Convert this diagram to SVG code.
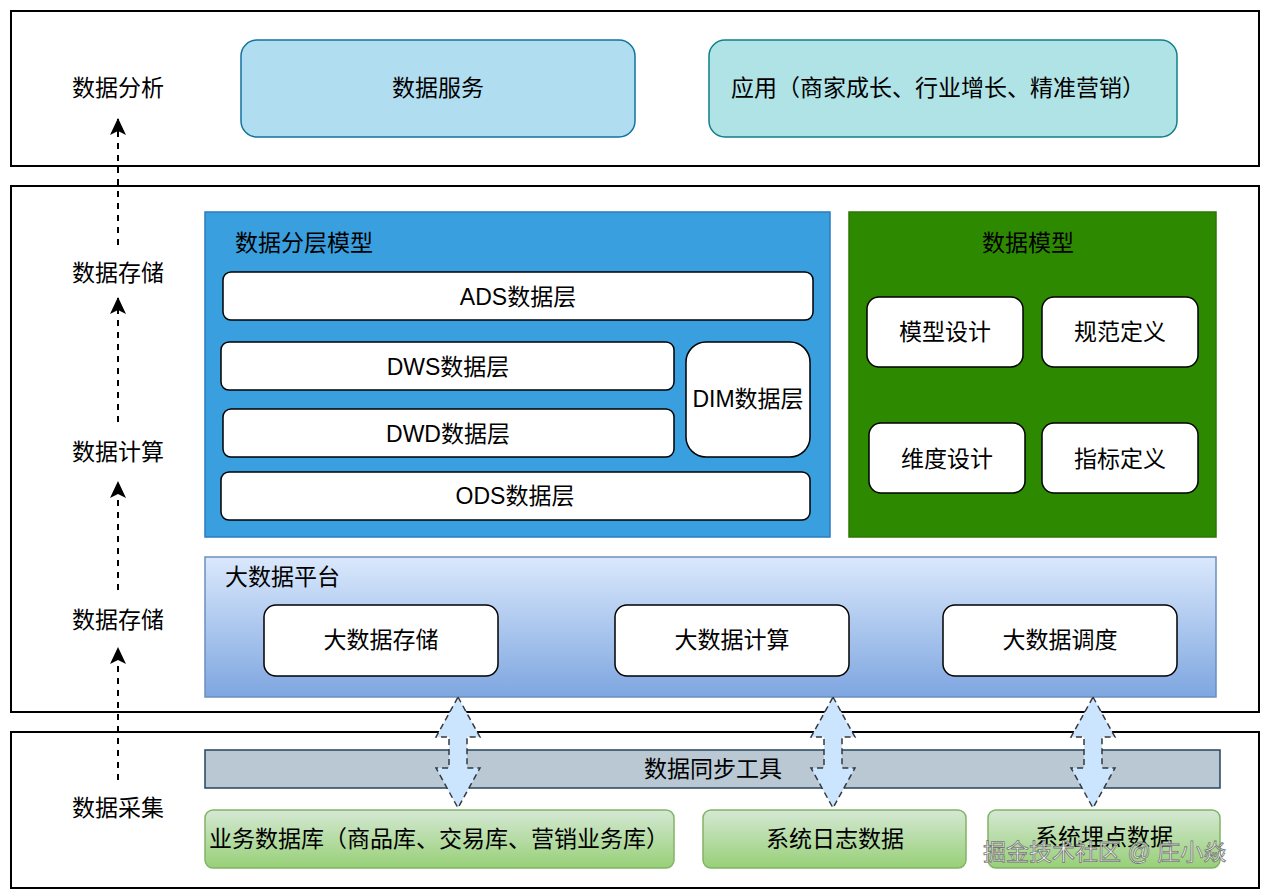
<svg xmlns="http://www.w3.org/2000/svg" width="1267" height="896" viewBox="0 0 1267 896">
<style>
text{font-family:"Liberation Sans","Noto Sans CJK SC",sans-serif;font-size:23px;fill:#000;}
.c{text-anchor:middle;dominant-baseline:central;}
.l{dominant-baseline:central;}
.frame{fill:#fff;stroke:#000;stroke-width:2;}
.w{fill:#fff;stroke:#000;stroke-width:1.5;}
.dash{stroke:#000;stroke-width:2;stroke-dasharray:6,6;fill:none;}
.dbl{fill:#cce5ff;stroke:#36393d;stroke-width:1.5;stroke-dasharray:6,4;}
.wm{font-size:23px;fill:#fff;fill-opacity:0.85;stroke:#777;stroke-width:0.8;}
</style>
<defs>
<linearGradient id="gBlue" x1="0" y1="0" x2="0" y2="1"><stop offset="0" stop-color="#dae8fc"/><stop offset="1" stop-color="#7ea6e0"/></linearGradient>
<linearGradient id="gGreen" x1="0" y1="0" x2="0" y2="1"><stop offset="0" stop-color="#d5e8d4"/><stop offset="1" stop-color="#97d077"/></linearGradient>
<marker id="ah" markerWidth="18" markerHeight="16" refX="16" refY="8" orient="auto" markerUnits="userSpaceOnUse"><path d="M0,0 L17,8 L0,16 L4,8 Z" fill="#000"/></marker>
</defs>
<rect width="1267" height="896" fill="#fff"/>
<g id="layer-analysis">
<rect class="frame" x="11" y="11" width="1248" height="155"/>
</g>
<g id="layer-storage">
<rect class="frame" x="11" y="186" width="1248" height="526"/>
</g>
<g id="layer-collect">
<rect class="frame" x="11" y="732" width="1248" height="156"/>
</g>
<g id="label-analysis"><text class="c" x="118" y="88">数据分析</text></g>
<g id="label-storage-top"><text class="c" x="118" y="273">数据存储</text></g>
<g id="label-compute"><text class="c" x="118" y="452">数据计算</text></g>
<g id="label-storage-bottom"><text class="c" x="118" y="620">数据存储</text></g>
<g id="label-collect"><text class="c" x="118" y="808">数据采集</text></g>
<g id="data-service">
<rect x="241" y="40" width="394" height="97" rx="16" fill="#b1ddf0" stroke="#10739e" stroke-width="1.5"/>
<text class="c" x="438" y="88">数据服务</text>
</g>
<g id="application">
<rect x="709" y="40" width="468" height="97" rx="16" fill="#b0e3e6" stroke="#0e8088" stroke-width="1.5"/>
<text class="c" x="938" y="88">应用（商家成长、行业增长、精准营销）</text>
</g>
<g id="layer-model">
<rect x="205" y="212" width="625" height="325" fill="#3a9fde" stroke="#2a7cbf" stroke-width="1.5"/>
<text class="l" x="235" y="243">数据分层模型</text>
</g>
<g id="ads"><rect class="w" x="223" y="272" width="590" height="48" rx="8"/><text class="c" x="518" y="297">ADS数据层</text></g>
<g id="dws"><rect class="w" x="221" y="342" width="453" height="48" rx="8"/><text class="c" x="448" y="367">DWS数据层</text></g>
<g id="dwd"><rect class="w" x="223" y="409" width="451" height="48" rx="8"/><text class="c" x="448" y="434">DWD数据层</text></g>
<g id="dim"><rect class="w" x="686" y="342" width="124" height="115" rx="20"/><text class="c" x="748" y="399">DIM数据层</text></g>
<g id="ods"><rect class="w" x="221" y="472" width="589" height="48" rx="8"/><text class="c" x="515" y="496">ODS数据层</text></g>
<g id="data-model">
<rect x="849" y="212" width="367" height="325" fill="#2d8a00" stroke="#2d7600" stroke-width="1.5"/>
<text class="c" x="1028" y="243">数据模型</text>
</g>
<g id="model-design"><rect class="w" x="867" y="297" width="156" height="70" rx="12"/><text class="c" x="945" y="332">模型设计</text></g>
<g id="spec-def"><rect class="w" x="1042" y="297" width="156" height="70" rx="12"/><text class="c" x="1120" y="332">规范定义</text></g>
<g id="dim-design"><rect class="w" x="869" y="423" width="156" height="70" rx="12"/><text class="c" x="947" y="459">维度设计</text></g>
<g id="metric-def"><rect class="w" x="1042" y="423" width="156" height="70" rx="12"/><text class="c" x="1120" y="459">指标定义</text></g>
<g id="bigdata-platform">
<rect x="205" y="557" width="1011" height="140" fill="url(#gBlue)" stroke="#6c8ebf" stroke-width="1.5"/>
<text class="l" x="225" y="577">大数据平台</text>
</g>
<g id="bd-storage"><rect class="w" x="264" y="605" width="234" height="71" rx="12"/><text class="c" x="381" y="640">大数据存储</text></g>
<g id="bd-compute"><rect class="w" x="615" y="605" width="234" height="71" rx="12"/><text class="c" x="732" y="640">大数据计算</text></g>
<g id="bd-schedule"><rect class="w" x="943" y="605" width="234" height="71" rx="12"/><text class="c" x="1060" y="640">大数据调度</text></g>
<g id="sync-tool">
<rect x="205" y="750" width="1015" height="38" fill="#bac8d3" stroke="#23445d" stroke-width="1.5"/>
<text class="c" x="713" y="769">数据同步工具</text>
</g>
<g id="biz-db"><rect x="205" y="810" width="469" height="58" rx="8" fill="url(#gGreen)" stroke="#82b366" stroke-width="1.5"/><text class="c" x="439" y="839">业务数据库（商品库、交易库、营销业务库）</text></g>
<g id="sys-log"><rect x="703" y="810" width="263" height="58" rx="8" fill="url(#gGreen)" stroke="#82b366" stroke-width="1.5"/><text class="c" x="835" y="839">系统日志数据</text></g>
<g id="tracking"><rect x="988" y="810" width="232" height="58" rx="8" fill="url(#gGreen)" stroke="#82b366" stroke-width="1.5"/><text class="c" x="1104" y="837">系统埋点数据</text></g>
<g id="connectors">
<line class="dash" x1="118" y1="245" x2="118" y2="119" marker-end="url(#ah)"/>
<line class="dash" x1="118" y1="422" x2="118" y2="298" marker-end="url(#ah)"/>
<line class="dash" x1="118" y1="590" x2="118" y2="482" marker-end="url(#ah)"/>
<line class="dash" x1="118" y1="780" x2="118" y2="648" marker-end="url(#ah)"/>
<path class="dbl" d="M458,697 L480,737 L467,737 L467,768 L480,768 L458,808 L436,768 L449,768 L449,737 L436,737 Z"/>
<path class="dbl" d="M833,697 L855,737 L842,737 L842,768 L855,768 L833,808 L811,768 L824,768 L824,737 L811,737 Z"/>
<path class="dbl" d="M1093,697 L1115,737 L1102,737 L1102,768 L1115,768 L1093,808 L1071,768 L1084,768 L1084,737 L1071,737 Z"/>
</g>
<g id="watermark"><text class="wm" x="983" y="860">掘金技术社区 @ 庄小焱</text></g>
</svg>
